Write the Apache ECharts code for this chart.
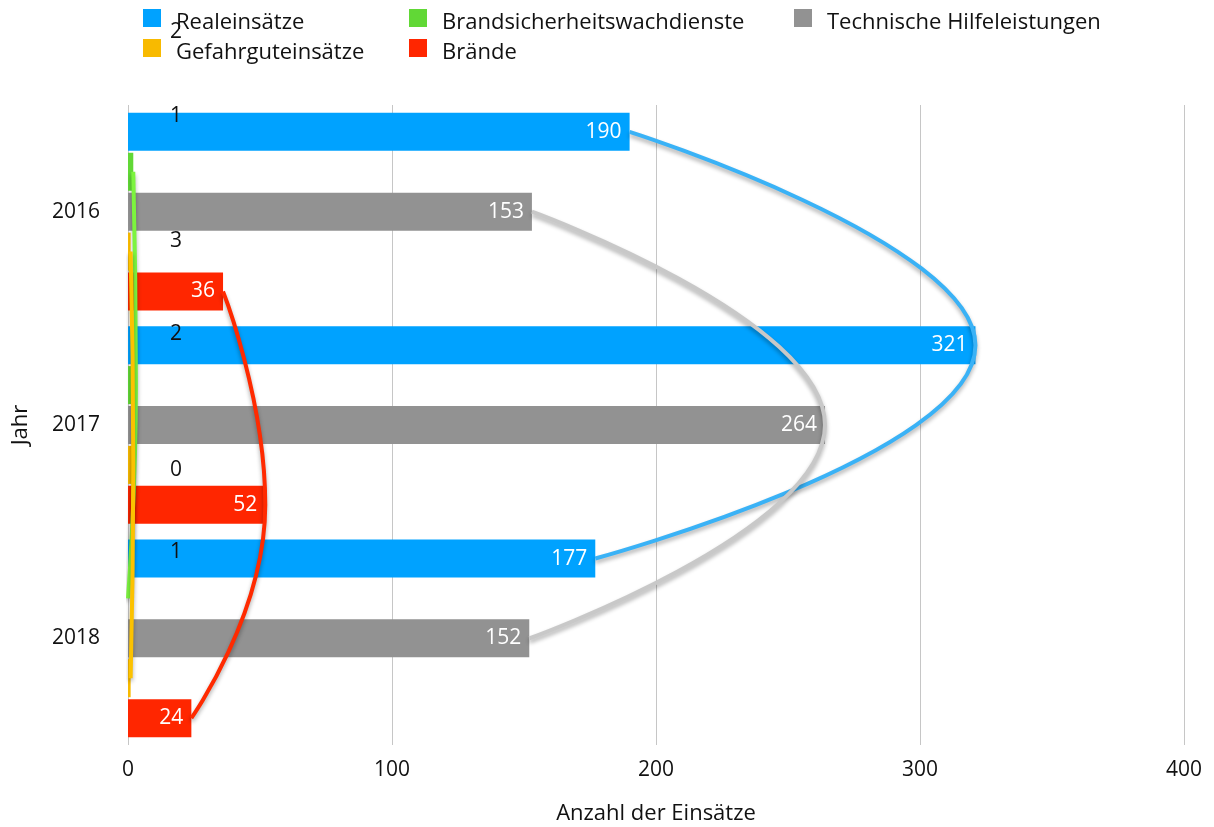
<!DOCTYPE html>
<html>
<head>
<meta charset="utf-8">
<script src="https://cdn.jsdelivr.net/npm/echarts@6/dist/echarts.min.js"></script>
<style>
  html, body { margin: 0; padding: 0; background: #ffffff; }
  #chart { width: 1214px; height: 827px; }
</style>
</head>
<body>
<div id="chart"></div>
<script>
// Einsatzstatistik 2016–2018
const years = ['2016', '2017', '2018'];
const seriesNames = [
  'Realeinsätze',
  'Brandsicherheitswachdienste',
  'Technische Hilfeleistungen',
  'Gefahrguteinsätze',
  'Brände'
];
const realeinsaetze = [190, 321, 177];
const brandsicherheitswachdienste = [2, 3, 0];
const technischeHilfeleistungen = [153, 264, 152];
const gefahrguteinsaetze = [1, 2, 1];
const braende = [36, 52, 24];
const xTicks = [0, 100, 200, 300, 400];

const values = [realeinsaetze, brandsicherheitswachdienste, technischeHilfeleistungen, gefahrguteinsaetze, braende];

// styling
const FONT = 'Open Sans';
const FS_TEXT = 22;
const FS_NUM = 21;
const INK = '#111';
const barColors = ['#00a2ff', '#61d836', '#929292', '#f8ba00', '#ff2600'];
const lineColors = ['#3ab2f6', '#7cf43e', '#c8c8c8', '#fcc200', '#ff2a00'];
const BAR_W = 38;
const BAR_GAP = 0.05;
const SLOT = BAR_W * (1 + BAR_GAP);
const GRID = { left: 128, right: 30, top: 105, bottom: 82, outerBoundsMode: 'none' };
const xMin = xTicks[0], xMax = xTicks[xTicks.length - 1], xStep = xTicks[1] - xTicks[0];
// small counts get their label lifted out of the crowded bar area
const smallLabelNudge = {
  1: [[37, -140], [37, -144], [37, -128]],
  3: [[37, -136], [37, -131], [37, -126]]
};
// legend swatch: an 18px square sitting at the top of a taller item box
const LEGEND_ICON = 'path://M0,0H18V18H0Z M0,27.99H0.01V28H0Z';

const chart = echarts.init(document.getElementById('chart'), null, { renderer: 'canvas' });

const grids = [Object.assign({}, GRID)];
const xAxes = [{
  type: 'value', gridIndex: 0, min: xMin, max: xMax, interval: xStep,
  name: 'Anzahl der Einsätze', nameLocation: 'middle', nameGap: 58,
  nameTextStyle: { fontFamily: FONT, fontSize: FS_TEXT, color: INK },
  axisLine: { show: false }, axisTick: { show: false },
  axisLabel: { fontFamily: FONT, fontSize: FS_NUM, color: INK, margin: 15 },
  splitLine: { show: true, lineStyle: { color: '#c6c6c6', width: 1 } }
}];
const yAxes = [{
  type: 'category', gridIndex: 0, data: years, inverse: true,
  name: 'Jahr', nameLocation: 'middle', nameGap: 96,
  nameTextStyle: { fontFamily: FONT, fontSize: FS_TEXT, color: INK },
  axisLine: { show: false }, axisTick: { show: false },
  axisLabel: { fontFamily: FONT, fontSize: FS_NUM, color: INK, margin: 28 },
  splitLine: { show: false }
}];

const series = [];
values.forEach((vals, i) => {
  const small = smallLabelNudge[i];
  series.push({
    name: seriesNames[i], type: 'bar', xAxisIndex: 0, yAxisIndex: 0,
    barWidth: BAR_W, barGap: (BAR_GAP * 100) + '%',
    itemStyle: { color: barColors[i] },
    z: 2,
    data: vals.map((v, k) => small ? {
      value: v,
      label: { offset: small[k] }
    } : v),
    label: small ? {
      show: true, position: 'insideLeft', distance: 5,
      fontFamily: FONT, fontSize: FS_NUM, color: INK
    } : {
      show: true, position: 'insideRight', distance: 8,
      fontFamily: FONT, fontSize: FS_NUM, color: '#ffffff'
    }
  });
});

// connecting curves, each drawn on a hidden grid shifted to its bar slot
values.forEach((vals, i) => {
  const shift = (i - 2) * SLOT;
  const g = grids.length;
  grids.push({
    left: GRID.left, right: GRID.right, top: GRID.top + shift, bottom: GRID.bottom - shift,
    outerBoundsMode: 'none'
  });
  xAxes.push({ type: 'value', gridIndex: g, min: xMin, max: xMax, show: false });
  yAxes.push({ type: 'category', gridIndex: g, data: years, inverse: true, show: false });
  series.push({
    name: seriesNames[i], type: 'line', xAxisIndex: g, yAxisIndex: g,
    data: vals, smooth: true, showSymbol: false, symbol: 'none',
    z: 5,
    lineStyle: {
      color: lineColors[i], width: 4,
      shadowColor: 'rgba(0,0,0,0.32)', shadowBlur: 4, shadowOffsetY: 3
    },
    label: { show: false }
  });
});

const legendBase = {
  orient: 'vertical', top: 9, padding: 0, itemWidth: 18, itemHeight: 28, itemGap: 2,
  icon: LEGEND_ICON,
  textStyle: { fontFamily: FONT, fontSize: FS_TEXT, color: INK, padding: [0, 0, 0, 10] }
};

chart.setOption({
  animation: false,
  backgroundColor: '#ffffff',
  textStyle: { fontFamily: FONT },
  legend: [
    Object.assign({}, legendBase, { left: 143, data: [seriesNames[0], seriesNames[3]] }),
    Object.assign({}, legendBase, { left: 409, data: [seriesNames[1], seriesNames[4]] }),
    Object.assign({}, legendBase, { left: 794, data: [seriesNames[2]] })
  ],
  grid: grids,
  xAxis: xAxes,
  yAxis: yAxes,
  series: series
});
</script>
</body>
</html>
